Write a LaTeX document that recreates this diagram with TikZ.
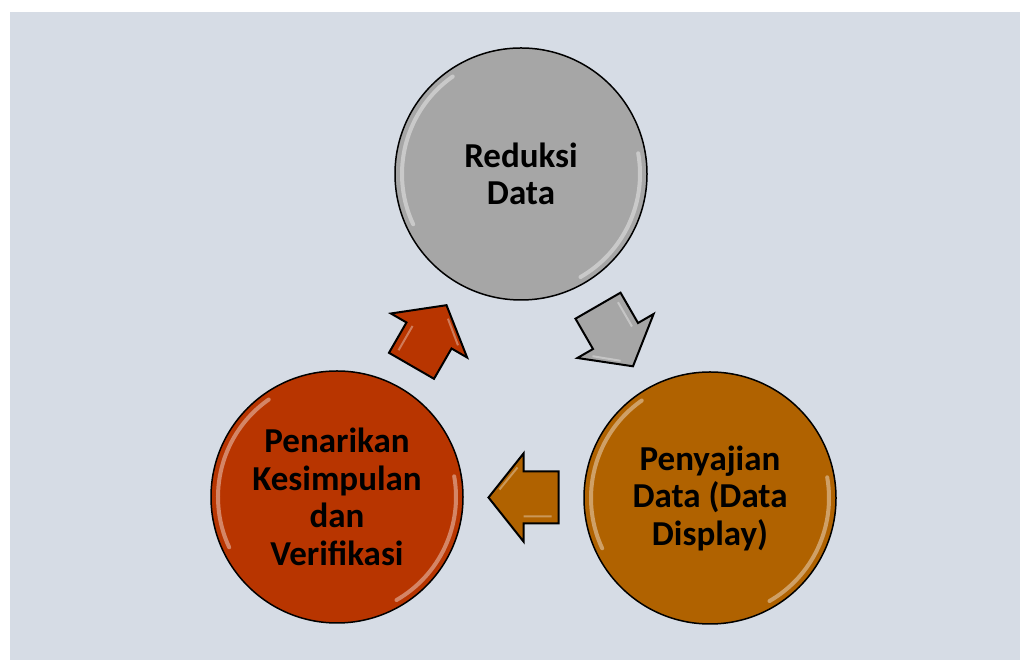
\documentclass[tikz,border=0pt]{standalone}
\usepackage{fontspec}
\setmainfont{Carlito}
\usepackage{tikz}
\usetikzlibrary{calc}
\definecolor{bgblue}{RGB}{214,220,229}
\definecolor{redgray}{RGB}{166,166,166}
\definecolor{sajirust}{RGB}{176,98,0}
\definecolor{tarikred}{RGB}{184,53,0}

\begin{document}
\begin{tikzpicture}[x=1pt, y=1pt,
  stage/.style={circle, draw=black, line width=1.5pt, minimum size=252pt,
                inner sep=0pt, align=center,
                font=\bfseries\fontsize{35}{37.5}\selectfont},
  gloss/.style={white, line width=4pt, line cap=round, opacity=0.4},
  pics/blockarrow/.style={code={
    \filldraw[fill=#1, draw=black, line width=2pt, line join=miter]
      (35,0) -- (0,44) -- (0,26) -- (-35,26) -- (-35,-26) -- (0,-26) -- (0,-44) -- cycle;
    \draw[white, opacity=0.35, line width=2pt]
      (-28,19) -- (0,19) (6,-30) -- (24,-8);
  }}]
\useasboundingbox (0,0) rectangle (1020,660);
\fill[bgblue] (10,0) rectangle (1020,648);
\node[stage, fill=redgray]  (reduksi)   at (521,486) {Reduksi\\Data};
\node[stage, fill=sajirust] (penyajian) at (710,162) {Penyajian\\Data (Data\\Display)};
\node[stage, fill=tarikred] (penarikan) at (337,163) {Penarikan\\Kesimpulan\\dan\\Verifikasi};
\foreach \n in {reduksi,penyajian,penarikan} {
  \draw[gloss] ($(\n.center)+(125:119)$) arc[start angle=125, end angle=205, radius=119];
  \draw[gloss] ($(\n.center)+(-60:119)$) arc[start angle=-60, end angle=10, radius=119];
}
\pic[rotate=-60] at ($(reduksi)!0.5!(penyajian)$) {blockarrow=redgray};
\pic[rotate=180] at ($(penyajian)!0.5!(penarikan)$) {blockarrow=sajirust};
\pic[rotate=60]  at ($(penarikan)!0.5!(reduksi)$) {blockarrow=tarikred};
\end{tikzpicture}
\end{document}
